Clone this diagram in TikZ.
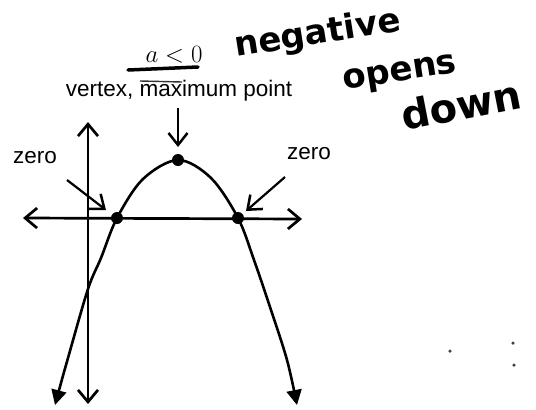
\documentclass[tikz,border=0pt]{standalone}
\usepackage{fontspec}
\setmainfont{Liberation Sans}
\newfontfamily\handfont{DejaVu Sans}
\usetikzlibrary{arrows.meta}
\begin{document}
\begin{tikzpicture}[x=1pt,y=-1pt,
  barb/.tip={Straight Barb[length=12pt,width=20pt,line width=2.7pt]},
  ptrbarb/.tip={Straight Barb[length=12pt,width=19pt,line width=2.5pt]},
  axisline/.style={line width=2.7pt,barb-barb},
  curveline/.style={line width=2.6pt,{Triangle[length=15pt,width=15pt]}-{Triangle[length=15pt,width=15pt]}},
  pointer/.style={line width=2.2pt,-ptrbarb},
  dotnode/.style={circle,fill=black,inner sep=0pt,minimum size=12pt},
  lbl/.style={font=\fontsize{22.5}{27}\selectfont,inner sep=0pt},
  hand/.style={font=\handfont\bfseries\fontsize{34}{40}\selectfont,inner sep=0pt,anchor=base west},
  speck/.style={circle,fill=black!75,inner sep=0pt,minimum size=3.5pt}]
\useasboundingbox (0,0) rectangle (536,410);
% axes
\coordinate (xl) at (23,218);
\coordinate (xr) at (302,219);
\coordinate (yt) at (88,122);
\coordinate (yb) at (88,404);
\draw[axisline] (xl) -- (xr);
\draw[axisline] (yb) -- (yt);
% key points
\node[dotnode] (vtx) at (178,160) {};
\node[dotnode] (zL) at (117,218) {};
\node[dotnode] (zR) at (238,218) {};
% parabola
\coordinate (pl1) at (55,405);
\coordinate (pl2) at (68,358);
\coordinate (pl3) at (88,289);
\coordinate (pl4) at (101,258);
\coordinate (pl5) at (143,179);
\coordinate (pr5) at (211,178);
\coordinate (pr4) at (254,260);
\coordinate (pr3) at (271,310);
\coordinate (pr2) at (287,360);
\coordinate (pr1) at (297,405);
\draw[curveline] plot[smooth,tension=0.55] coordinates {(pl1) (pl2) (pl3) (pl4) (zL.center) (pl5) (vtx.center) (pr5) (zR.center) (pr4) (pr3) (pr2) (pr1)};
% labels
\node[lbl,anchor=base] (vlab) at (179,96) {vertex, maximum point};
\node[lbl] (zlabL) at (35,158) {zero};
\node[lbl] (zlabR) at (309,154) {zero};
% pointer arrows
\coordinate (vs) at (178,108);
\coordinate (ve) at (178,147);
\coordinate (ls) at (67,180);
\coordinate (le) at (106,210);
\coordinate (rs) at (285,177);
\coordinate (re) at (246,211);
\draw[pointer] (vs) -- (ve);
\draw[pointer] (ls) -- (le);
\draw[pointer] (rs) -- (re);
% a<0 with bar
\node[inner sep=0pt,anchor=base,font=\fontsize{25}{30}\selectfont] (cond) at (174,62) {$a<0$};
\coordinate (b1) at (128,70);
\coordinate (b2) at (198,67);
\draw[line width=3.5pt,line cap=round] (b1) -- (b2);
\coordinate (t1) at (140,81);
\coordinate (t2) at (182,82);
\draw[line width=1.4pt,black!80] (t1) -- (t2);
% handwriting
\node[hand,rotate=9] (neg) at (236,57) {negative};
\node[hand,rotate=9] (opn) at (344,90) {opens};
\node[hand,rotate=11,font=\handfont\bfseries\fontsize{40}{46}\selectfont] (dwn) at (404,131) {down};
% specks
\node[speck] (s1) at (450,351) {};
\node[speck] (s2) at (513,343) {};
\node[speck] (s3) at (514,365) {};
\end{tikzpicture}
\end{document}
